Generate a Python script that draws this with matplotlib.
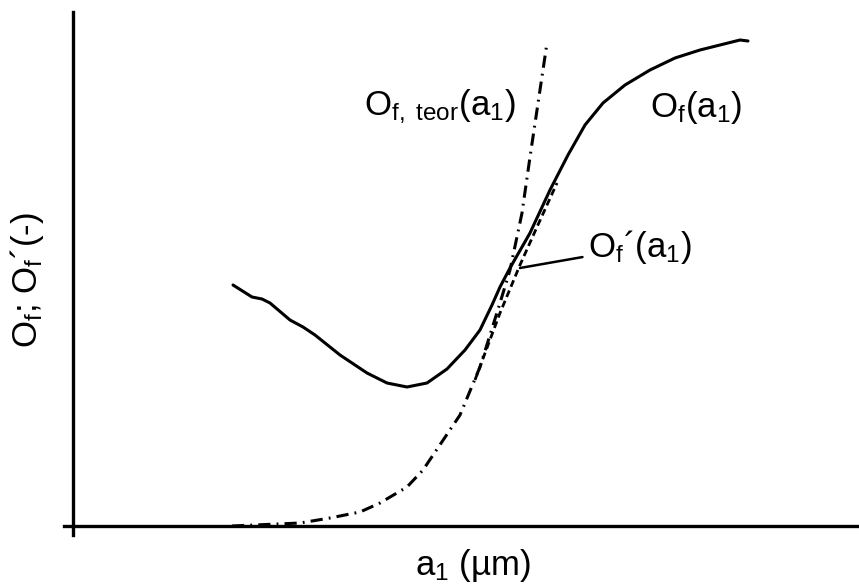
import matplotlib
matplotlib.use("Agg")
from matplotlib import pyplot as plt

plt.rcParams['font.family'] = ['Liberation Sans', 'DejaVu Sans']
plt.rcParams['mathtext.fontset'] = 'custom'
plt.rcParams['mathtext.rm'] = 'Liberation Sans'
plt.rcParams['mathtext.it'] = 'Liberation Sans'

# schematic, arbitrary units (origin where the axes cross)
of_x = [160, 179, 189, 197, 217, 230, 242, 267, 294, 314, 334, 354, 374,
        392, 407, 419, 427, 437, 457, 477, 495, 512, 530, 552, 577, 602,
        627, 647, 667, 675]
of_y = [241, 229, 227, 223, 206, 199, 191, 171, 153, 143, 139, 143, 157,
        176, 196, 221, 239, 258, 293, 336, 371, 401, 423, 441, 456, 468,
        476, 481, 486, 485]

teor_x = [159, 227, 257, 287, 307, 334, 350, 387, 407, 427, 437, 449, 457, 474]
teor_y = [0, 3, 8, 14, 23, 39, 56, 111, 159, 223, 256, 313, 369, 483]

der_x = [402, 427, 447, 464, 484]
der_y = [146, 213, 261, 299, 343]

fig = plt.figure(figsize=(8.59, 5.84), dpi=100)
ax = fig.add_axes([64/859, 49/584, 795/859, 523/584])
ax.set_xlim(-9, 786)
ax.set_ylim(-9, 514)

ax.plot(of_x, of_y, c='black', lw=2.2, solid_capstyle='round',
        solid_joinstyle='round', clip_on=False)
ax.plot(teor_x, teor_y, c='black', lw=2.2, dashes=[4, 2, 0.6, 2], clip_on=False)
ax.plot(der_x, der_y, c='black', lw=2.0, dashes=[2.5, 1.5], clip_on=False)

fs = 25
ax.text(367, 419, r'O$_{\mathrm{f,\ teor}}$(a$_1$)', fontsize=fs, ha='center', va='center')
ax.text(623, 419, r'O$_\mathrm{f}$(a$_1$)', fontsize=fs, ha='center', va='center')
ax.annotate(r'O$_\mathrm{f}$´(a$_1$)', xy=(447, 258), xytext=(515, 279),
            fontsize=fs, ha='left', va='center',
            arrowprops=dict(arrowstyle='-', color='black', lw=1.8,
                            shrinkA=2, shrinkB=0))

ax.text(-46, 246, r'O$_\mathrm{f}$; O$_\mathrm{f}$´(-)', fontsize=fs,
        rotation=90, ha='center', va='center')
ax.text(400, -39, r'a$_1$ (µm)', fontsize=fs, ha='center', va='center')

for side in ['top', 'right']:
    ax.spines[side].set_visible(False)
ax.spines['left'].set_position(('data', 0))
ax.spines['bottom'].set_position(('data', 0))
ax.spines['left'].set_linewidth(2.4)
ax.spines['bottom'].set_linewidth(2.4)
ax.set_xticks([])
ax.set_yticks([])
ax.patch.set_visible(False)

fig.savefig('out.png', dpi=100)
